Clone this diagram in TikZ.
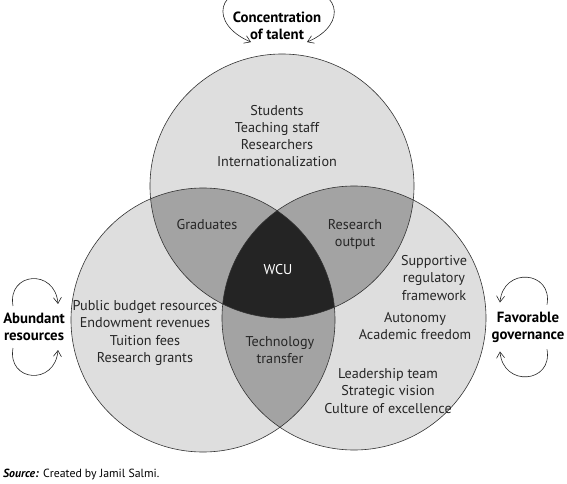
\documentclass[tikz,border=0pt]{standalone}
\usepackage{fontspec}
\setmainfont{PT Sans}
\usepackage{xcolor}
\usetikzlibrary{arrows.meta, positioning}

\definecolor{vennlight}{gray}{0.87}
\definecolor{vennmid}{gray}{0.64}
\definecolor{venndark}{gray}{0.14}

\begin{document}
\begin{tikzpicture}[
    x=1pt, y=-1pt,
    ring/.style={draw=black!80, line width=0.6pt},
    txt/.style={align=center, inner sep=0pt, text=black!85, font=\fontsize{14.2}{17.2}\selectfont},
    side/.style={align=center, inner sep=0pt, font=\fontsize{14.8}{17}\selectfont\bfseries},
    turn/.style={-{Straight Barb[length=6pt,width=8pt]}, line width=0.6pt, draw=black!85}
]
\useasboundingbox (0,0) rectangle (567,484);

\coordinate (ctop) at (282,186);
\coordinate (cleft) at (203,320);
\coordinate (cright) at (354,318);

% circles
\fill[vennlight] (ctop) circle[radius=132];
\fill[vennlight] (cleft) circle[radius=132];
\fill[vennlight] (cright) circle[radius=132];

% pairwise overlaps
\begin{scope}
  \clip (ctop) circle[radius=132];
  \fill[vennmid] (cleft) circle[radius=132];
  \fill[vennmid] (cright) circle[radius=132];
\end{scope}
\begin{scope}
  \clip (cleft) circle[radius=132];
  \fill[vennmid] (cright) circle[radius=132];
\end{scope}

% centre
\begin{scope}
  \clip (ctop) circle[radius=132];
  \clip (cleft) circle[radius=132];
  \fill[venndark] (cright) circle[radius=132];
\end{scope}

\draw[ring] (ctop) circle[radius=132];
\draw[ring] (cleft) circle[radius=132];
\draw[ring] (cright) circle[radius=132];

% texts in the circles
\node[txt] (talentlist) at (277,136) {Students\\Teaching staff\\Researchers\\Internationalization};
\node[txt] (grad) at (207,225) {Graduates};
\node[txt] (resout) at (355,234) {Research\\output};
\node[txt, text=white] (wcu) at (278,270) {WCU};
\node[txt] (money) at (145,333) {Public budget resources\\Endowment revenues\\Tuition fees\\Research grants};
\node[txt] (techtr) at (280,350) {Technology\\transfer};
\node[txt] (regul) at (434,278) {Supportive\\regulatory\\framework};
\node[txt] (auton) at (415,326) {Autonomy\\Academic freedom};
\node[txt] (leader) at (388,391) {Leadership team\\Strategic vision\\Culture of excellence};

% outer labels
\node[side] (talent) at (277,26) {Concentration\\of talent};
\node[side] (abund) at (34,327) {Abundant\\resources};
\node[side] (govern) at (528,327) {Favorable\\governance};

% turning arrows
\draw[turn] ([shift={(-9,-25)}]talent.north) .. controls +(-54,-2) and +(-42,-18) .. ([shift={(-26,2)}]talent.south);
\draw[turn] ([shift={(11,-25)}]talent.north) .. controls +(54,-2) and +(42,-18) .. ([shift={(30,2)}]talent.south);
\draw[turn] ([shift={(-21,-7)}]abund.north) .. controls +(-6,-34) and +(-3,-36) .. ([shift={(24,-9)}]abund.north);
\draw[turn] ([shift={(-21,7)}]abund.south) .. controls +(-6,34) and +(-3,36) .. ([shift={(24,9)}]abund.south);
\draw[turn] ([shift={(19,-7)}]govern.north) .. controls +(6,-34) and +(3,-36) .. ([shift={(-28,-9)}]govern.north);
\draw[turn] ([shift={(19,7)}]govern.south) .. controls +(6,34) and +(3,36) .. ([shift={(-28,9)}]govern.south);

% source line
\node[anchor=west, inner sep=0pt, font=\fontsize{11.8}{13}\selectfont] (src) at (3,474) {\textbf{\textit{Source:}} Created by Jamil Salmi.};
\end{tikzpicture}
\end{document}
